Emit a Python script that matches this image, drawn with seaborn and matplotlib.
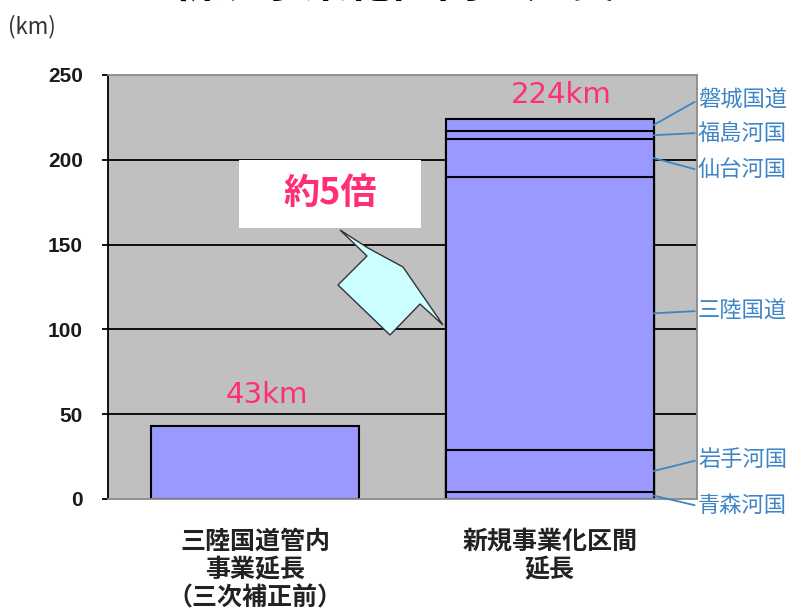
import numpy as np
import pandas as pd
import matplotlib
matplotlib.use("Agg")
import matplotlib.pyplot as plt
import seaborn as sns
from matplotlib.patches import Polygon, Rectangle

# ---- data ----
categories = ["三陸国道管内\n事業延長\n（三次補正前）", "新規事業化区間\n延長"]
totals = [43, 224]
total_labels = ["43km", "224km"]
segment_names = ["青森河国", "岩手河国", "三陸国道", "仙台河国", "福島河国", "磐城国道"]
segment_values = [4, 25, 161, 22, 5, 7]
yticks = [0, 50, 100, 150, 200, 250]
title = "新規事業化区間の延長"
ratio_text = "約5倍"

sns.set_theme(style="white")
CJK = ["Noto Sans CJK JP", "DejaVu Sans"]
plt.rcParams["font.family"] = CJK

W, H = 794, 614
fig = plt.figure(figsize=(W / 100, H / 100), dpi=100)
ax = fig.add_axes([108 / W, 1 - 499 / H, (697 - 108) / W, (499 - 75) / H])
ax.set_facecolor("#c0c0c0")

bar_color = "#9999ff"
edge = "black"
width = 0.705

# gridlines (behind bars)
for t in yticks[1:-1]:
    ax.axhline(t, color="black", lw=1.3, zorder=1)

# first bar (total)
df1 = pd.DataFrame({"cat": [categories[0]], "val": [totals[0]]})
sns.barplot(data=df1, x="cat", y="val", order=categories, color=bar_color,
            saturation=1, width=width, edgecolor=edge, linewidth=1.5, ax=ax, zorder=2)

# stacked second bar: draw cumulative layers from top down
cum = np.cumsum(segment_values)
for c in cum[::-1]:
    dfc = pd.DataFrame({"cat": [categories[1]], "val": [c]})
    sns.barplot(data=dfc, x="cat", y="val", order=categories, color=bar_color,
                saturation=1, width=width, edgecolor=edge, linewidth=1.5, ax=ax, zorder=2)

ax.set_xlim(-0.5, 1.5)
ax.set_ylim(0, 250)
ax.set_xlabel("")
ax.set_ylabel("")
ax.set_yticks(yticks)
ax.set_yticklabels([str(t) for t in yticks], fontsize=15, fontweight="bold",
                   family=["Liberation Sans"], color="#1a1a1a")
ax.tick_params(axis="y", length=4, width=1.3, color="black", direction="out", pad=14, left=True)
ax.tick_params(axis="x", length=0, pad=22)
ax.set_xticks([0, 1])
ax.set_xticklabels(categories, fontsize=18, fontweight="bold", color="#222222",
                   linespacing=1.22)

for s in ["top", "right", "bottom"]:
    ax.spines[s].set_color("#8a8a8a")
    ax.spines[s].set_linewidth(1.3)
ax.spines["left"].set_color("black")
ax.spines["left"].set_linewidth(1.3)

pink = "#ff2f73"
# total labels
label_offsets = [10, 6]
for i, (t, lab) in enumerate(zip(totals, total_labels)):
    ax.text(i + 0.04, t + label_offsets[i], lab, ha="center", va="bottom", fontsize=21,
            color=pink, family=["DejaVu Sans"], zorder=5)

# white box with ratio text
box = Rectangle((-0.055, 160), 0.617, 40, facecolor="white", edgecolor="none", zorder=3)
ax.add_patch(box)
ax.text(0.253, 180, ratio_text, ha="center", va="center", fontsize=26, fontweight="bold",
        color=pink, zorder=4)

# callout arrow shape (pixel coords -> figure fraction)
pts_px = [(340, 230), (368, 248), (403, 267), (443, 325), (420, 304),
          (390, 335), (338, 285), (367, 256)]
pts = [(x / W, 1 - y / H) for x, y in pts_px]
poly = Polygon(pts, closed=True, facecolor="#ccffff", edgecolor="#333333", lw=1.0,
               transform=fig.transFigure, zorder=6)
fig.patches.append(poly)

# segment labels on right with connector lines
blue = "#3d85c6"
label_y_px = [506, 460, 311, 170, 133, 100]
bottoms = np.concatenate([[0], cum[:-1]])
bar_right = 1 + width / 2
for name, b, v, ypx in zip(segment_names, bottoms, segment_values, label_y_px):
    ax.annotate(name, xy=(bar_right, b + v / 2), xycoords="data",
                xytext=(698, H - ypx), textcoords="figure pixels",
                ha="left", va="center", fontsize=16, color=blue,
                arrowprops=dict(arrowstyle="-", color=blue, lw=1.3,
                                shrinkA=0, shrinkB=0, relpos=(0, 0.5)),
                annotation_clip=False, zorder=7)

# unit label and (clipped) title
fig.text(8 / W, 1 - 27 / H, "(km)", ha="left", va="center", fontsize=16, color="#333333")
fig.text(393 / W, 1 - 8 / H, title, ha="center", va="bottom", fontsize=32,
         fontweight="bold", color="black")

fig.savefig("out.png", dpi=100)
